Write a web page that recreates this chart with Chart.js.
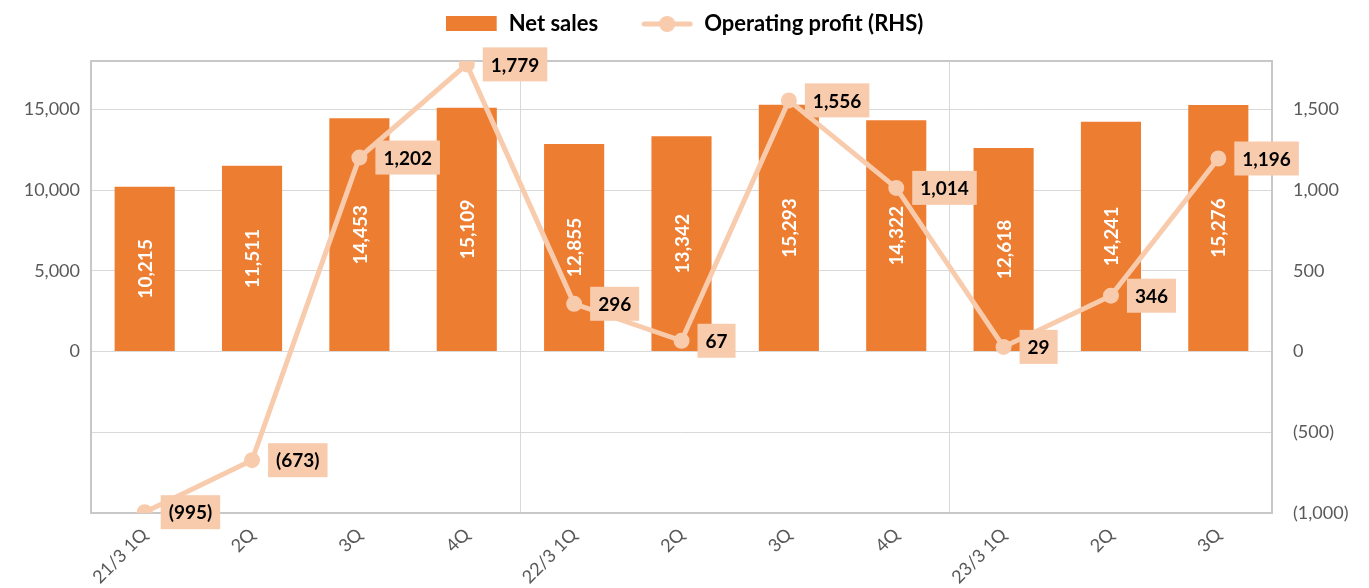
<!DOCTYPE html>
<html>
<head>
<meta charset="utf-8">
<script src="https://cdn.jsdelivr.net/npm/chart.js@4.4.1/dist/chart.umd.min.js"></script>
<style>
  html, body { margin: 0; padding: 0; background: #fff; }
  #wrap { width: 1369px; height: 588px; }
</style>
</head>
<body>
<div id="wrap"><canvas id="chart" width="1369" height="588"></canvas></div>
<script>
// Data
const quarters = ['21/3 1Q', '2Q', '3Q', '4Q', '22/3 1Q', '2Q', '3Q', '4Q', '23/3 1Q', '2Q', '3Q'];
const netSales = [10215, 11511, 14453, 15109, 12855, 13342, 15293, 14322, 12618, 14241, 15276];
const operatingProfit = [-995, -673, 1202, 1779, 296, 67, 1556, 1014, 29, 346, 1196];
const salesTicks = [-10000, -5000, 0, 5000, 10000, 15000];
const profitTicks = [-1000, -500, 0, 500, 1000, 1500];

const BAR_COLOR = '#ED7D31';
const LINE_COLOR = '#F8CBAD';
const GRID_COLOR = '#D9D9D9';
const TEXT_GRAY = '#595959';
const FONT = 'Lato, "Open Sans", sans-serif';

const fmt = v => Math.abs(v).toLocaleString('en-US');
const fmtParen = v => v < 0 ? '(' + fmt(v) + ')' : fmt(v);

// little images for the legend markers
function makeBarMarker() {
    const c = document.createElement('canvas');
    c.width = 52; c.height = 16;
    const g = c.getContext('2d');
    g.fillStyle = BAR_COLOR;
    g.fillRect(0, 0, 51, 15);
    return c;
}
function makeLineMarker() {
    const c = document.createElement('canvas');
    c.width = 52; c.height = 18;
    const g = c.getContext('2d');
    g.strokeStyle = LINE_COLOR;
    g.lineWidth = 5;
    g.lineCap = 'round';
    g.beginPath(); g.moveTo(3, 9); g.lineTo(49, 9); g.stroke();
    g.fillStyle = LINE_COLOR;
    g.beginPath(); g.arc(26, 9, 8, 0, Math.PI * 2); g.fill();
    return c;
}

// keep the legend band as tall as the space above the plot
const legendBand = {
    id: 'legendBand',
    afterInit(chart) {
        const lg = chart.legend;
        if (!lg) return;
        const fit = lg.fit;
        lg.fit = function () {
            fit.call(this);
            this.height = 58;
        };
    }
};

// plot area border
const plotBorder = {
    id: 'plotBorder',
    beforeDatasetsDraw(chart) {
        const { ctx, chartArea: a } = chart;
        ctx.save();
        ctx.strokeStyle = '#C8C8C8';
        ctx.lineWidth = 2;
        ctx.strokeRect(a.left, a.top, a.right - a.left, a.bottom - a.top);
        ctx.restore();
    }
};

// value labels: white rotated in bars, boxed next to the line points
const valueLabels = {
    id: 'valueLabels',
    afterDatasetDraw(chart, args) {
        if (chart.data.datasets[args.index].type !== 'bar') return;
        const { ctx } = chart;
        ctx.save();
        ctx.font = 'bold 19px ' + FONT;
        ctx.fillStyle = '#FFFFFF';
        ctx.textAlign = 'center';
        ctx.textBaseline = 'middle';
        args.meta.data.forEach((bar, i) => {
            const cy = (bar.y + bar.base) / 2;
            ctx.save();
            ctx.translate(bar.x, cy);
            ctx.rotate(-Math.PI / 2);
            ctx.fillText(fmt(netSales[i]), 0, 1);
            ctx.restore();
        });
        ctx.restore();
    },
    afterDatasetsDraw(chart) {
        const { ctx } = chart;
        const meta = chart.getDatasetMeta(1);
        ctx.save();
        ctx.font = 'bold 19px ' + FONT;
        ctx.textAlign = 'left';
        ctx.textBaseline = 'middle';
        meta.data.forEach((pt, i) => {
            const text = fmtParen(operatingProfit[i]);
            const w = ctx.measureText(text).width;
            const x = pt.x + 16;
            const h = 34;
            ctx.fillStyle = LINE_COLOR;
            ctx.fillRect(x, pt.y - h / 2, w + 16, h);
            ctx.fillStyle = '#000000';
            ctx.fillText(text, x + 8, pt.y + 1);
        });
        ctx.restore();
    }
};

const ctx = document.getElementById('chart').getContext('2d');
const chart = new Chart(ctx, {
    data: {
        labels: quarters,
        datasets: [{
            type: 'bar',
            label: 'Net sales',
            data: netSales,
            backgroundColor: BAR_COLOR,
            barPercentage: 0.56,
            categoryPercentage: 1,
            yAxisID: 'y',
            order: 2
        }, {
            type: 'line',
            label: 'Operating profit (RHS)',
            data: operatingProfit,
            borderColor: LINE_COLOR,
            borderWidth: 5,
            pointRadius: 8,
            pointBackgroundColor: LINE_COLOR,
            pointBorderWidth: 0,
            tension: 0,
            yAxisID: 'y1',
            order: 1
        }]
    },
    options: {
        responsive: false,
        animation: false,
        layout: { padding: { top: 3, left: 0, right: 0, bottom: 0 } },
        plugins: {
            tooltip: { enabled: false },
            legend: {
                position: 'top',
                labels: {
                    usePointStyle: true,
                    pointStyleWidth: 52,
                    padding: 10,
                    color: '#000000',
                    font: { family: FONT, size: 22, weight: 'bold' },
                    generateLabels: () => [
                        // trailing spaces give the wide gap between the two entries
                        { text: 'Net sales\u2003\u2003', pointStyle: makeBarMarker(), datasetIndex: 0, lineWidth: 0, fontColor: '#000' },
                        { text: 'Operating profit (RHS)', pointStyle: makeLineMarker(), datasetIndex: 1, lineWidth: 0, fontColor: '#000' }
                    ]
                }
            }
        },
        scales: {
            x: {
                offset: true,
                grid: {
                    offset: true,
                    drawTicks: false,
                    color: c => (c.index === 4 || c.index === 8) ? GRID_COLOR : 'transparent'
                },
                border: { display: false },
                ticks: {
                    color: TEXT_GRAY,
                    font: { family: FONT, size: 18 },
                    maxRotation: 45,
                    minRotation: 45,
                    padding: 11,
                    autoSkip: false
                },
                afterFit: s => { s.height = 75; }
            },
            y: {
                position: 'left',
                min: -10000,
                max: 18000,
                afterBuildTicks: s => { s.ticks = salesTicks.map(v => ({ value: v })); },
                grid: { color: GRID_COLOR, drawTicks: false },
                border: { display: false },
                ticks: {
                    color: TEXT_GRAY,
                    font: { family: FONT, size: 18 },
                    padding: 11,
                    callback: v => v < 0 ? '' : fmt(v)
                },
                afterFit: s => { s.width = 91; }
            },
            y1: {
                position: 'right',
                min: -1000,
                max: 1800,
                afterBuildTicks: s => { s.ticks = profitTicks.map(v => ({ value: v })); },
                grid: { display: false, drawTicks: false },
                border: { display: false },
                ticks: {
                    color: TEXT_GRAY,
                    font: { family: FONT, size: 18 },
                    padding: 21,
                    callback: v => fmtParen(v)
                },
                afterFit: s => { s.width = 97; }
            }
        }
    },
    plugins: [legendBand, plotBorder, valueLabels]
});
</script>
</body>
</html>
